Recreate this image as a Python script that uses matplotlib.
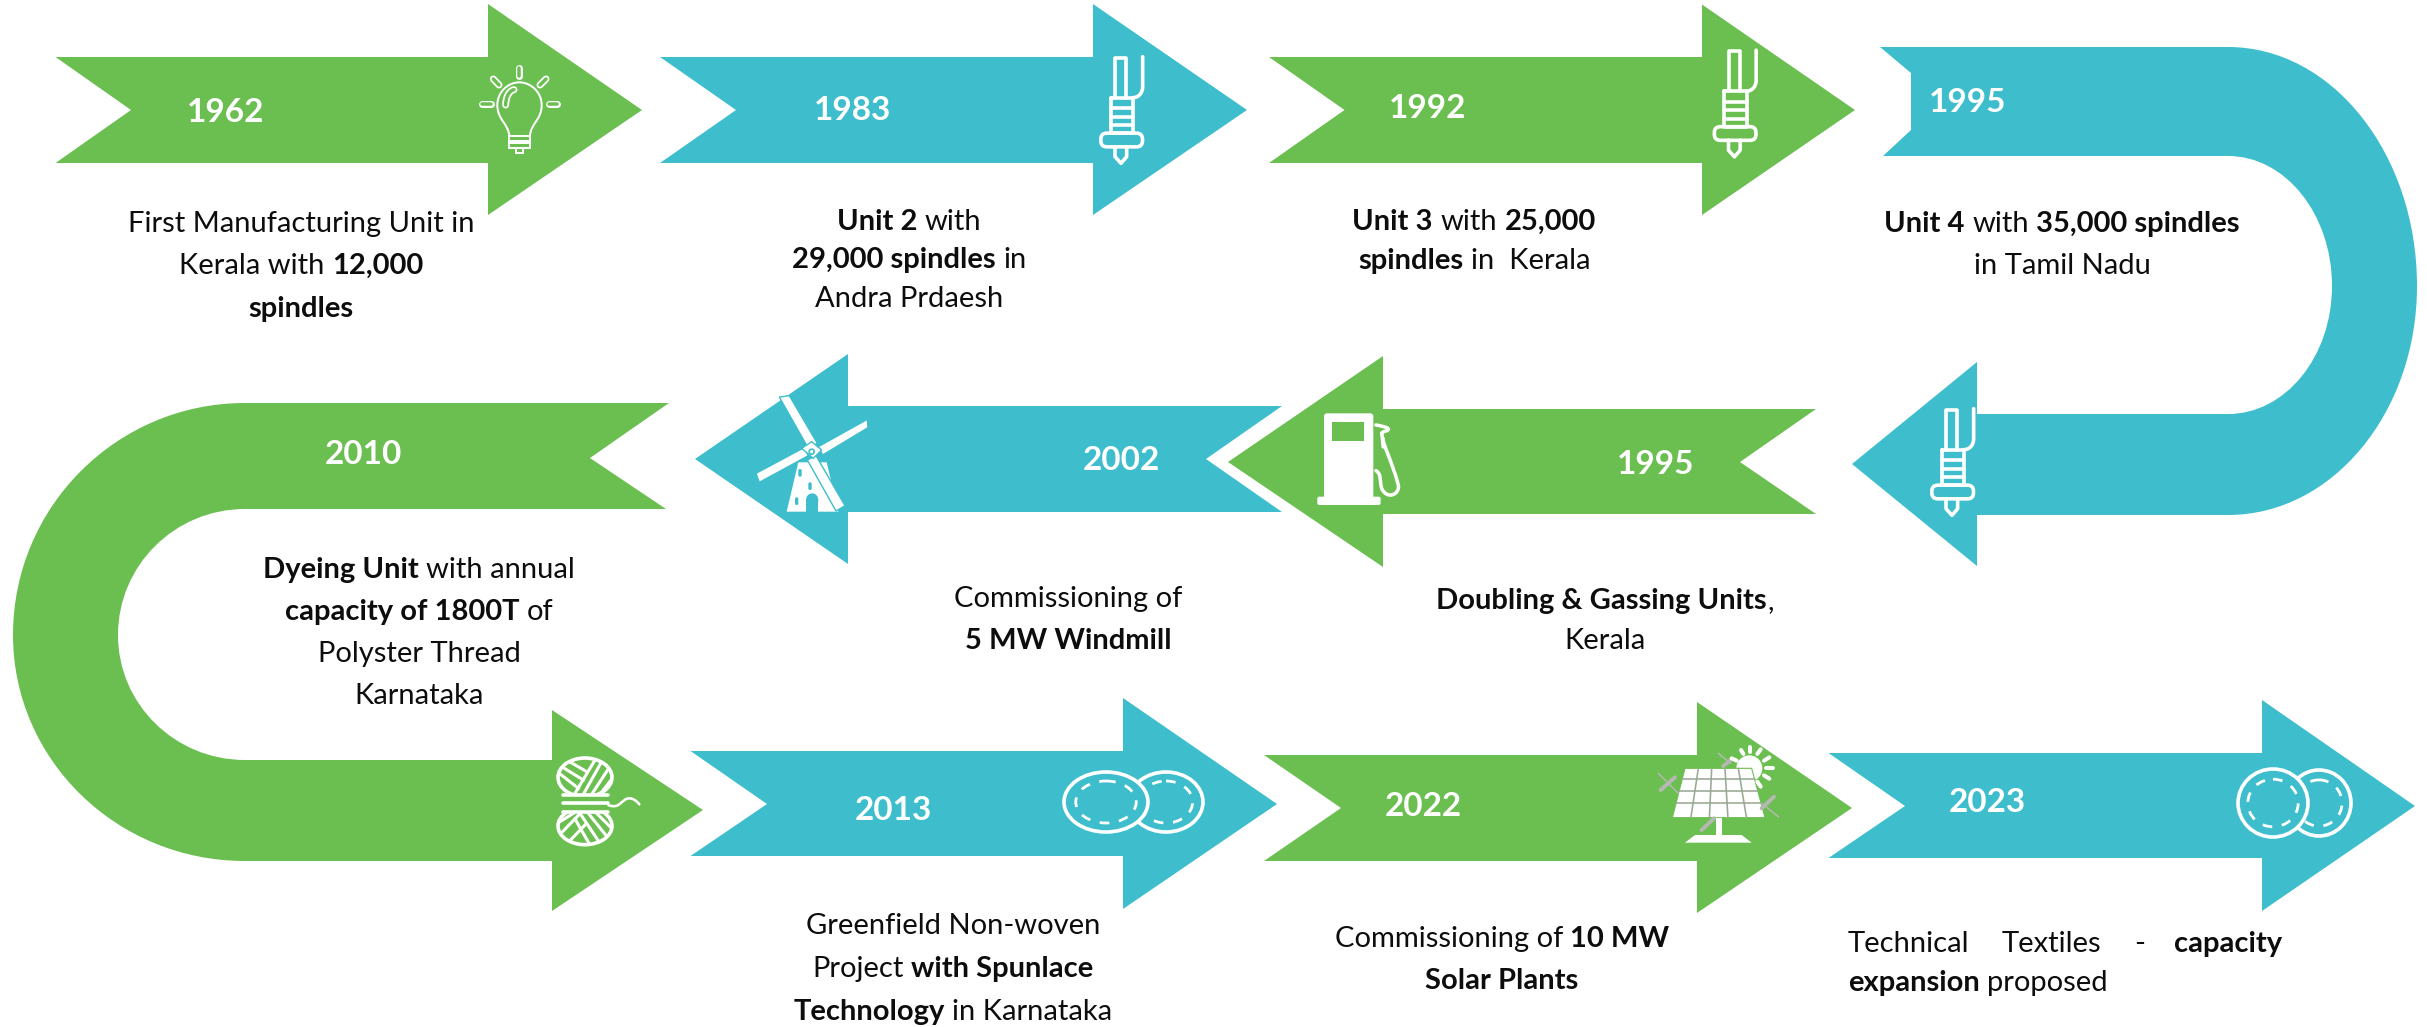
import numpy as np
import matplotlib
matplotlib.use("Agg")
import matplotlib.pyplot as plt
from matplotlib.path import Path
from matplotlib.patches import PathPatch, Polygon, Ellipse, FancyBboxPatch, Rectangle

GREEN = "#6bbf50"
BLUE = "#3ebecd"

# data
years = ["1962", "1983", "1992", "1995", "1995", "2002", "2010", "2013", "2022", "2023"]
desc_1962 = [[("First Manufacturing Unit in", 0)], [("Kerala with ", 0), ("12,000", 1)], [("spindles", 1)]]
desc_1983 = [[("Unit 2", 1), (" with", 0)], [("29,000 spindles", 1), (" in", 0)], [("Andra Prdaesh", 0)]]
desc_1992 = [[("Unit 3", 1), (" with ", 0), ("25,000", 1)], [("spindles", 1), (" in  Kerala", 0)]]
desc_1995a = [[("Unit 4", 1), (" with ", 0), ("35,000 spindles", 1)], [("in Tamil Nadu", 0)]]
desc_1995b = [[("Doubling & Gassing Units", 1), (",", 0)], [("Kerala", 0)]]
desc_2002 = [[("Commissioning of", 0)], [("5 MW Windmill", 1)]]
desc_2010 = [[("Dyeing Unit", 1), (" with annual", 0)], [("capacity of 1800T", 1), (" of", 0)],
             [("Polyster Thread", 0)], [("Karnataka", 0)]]
desc_2013 = [[("Greenfield Non-woven", 0)], [("Project ", 0), ("with Spunlace", 1)],
             [("Technology", 1), (" in Karnataka", 0)]]
desc_2022 = [[("Commissioning of ", 0), ("10 MW", 1)], [("Solar Plants", 1)]]
words_2023 = [("Technical", 0), ("Textiles", 0), ("-", 0), ("capacity", 1)]
line2_2023 = [("expansion", 1), (" proposed", 0)]

fig = plt.figure(figsize=(24.27, 10.27), dpi=100)
ax = fig.add_axes([0, 0, 1, 1])
ax.set_xlim(0, 2427)
ax.set_ylim(1027, 0)
ax.axis("off")
plt.rcParams["font.family"] = ["Lato", "DejaVu Sans"]
rend = fig.canvas.get_renderer()
BODY = 21
YEAR = 24


def arrow(tail, notch, base, tip, yc, top, bot, htop, hbot, col):
    pts = [(tail, top), (base, top), (base, htop), (tip, yc), (base, hbot), (base, bot), (tail, bot), (notch, yc)]
    ax.add_patch(Polygon(pts, closed=True, fc=col, ec="none"))


def curved(verts, col):
    # verts: list of (code letter, x, y)
    codes = {"M": Path.MOVETO, "L": Path.LINETO, "C": Path.CURVE4}
    p = Path([(v[1], v[2]) for v in verts], [codes[v[0]] for v in verts])
    ax.add_patch(PathPatch(p, fc=col, ec="none"))


def quarter(x0, y0, x1, y1, first_horizontal):
    k = 0.5523
    if first_horizontal:
        a = (x0 + k * (x1 - x0), y0)
        b = (x1, y1 - k * (y1 - y0))
    else:
        a = (x0, y0 + k * (y1 - y0))
        b = (x1 - k * (x1 - x0), y1)
    return [("C", *a), ("C", *b), ("C", x1, y1)]


def width(s, bold):
    t = ax.text(0, 0, "|" + s + "|", fontsize=BODY, fontweight="bold" if bold else "normal")
    w = t.get_window_extent(rend).width
    t.set_text("||")
    w -= t.get_window_extent(rend).width
    t.remove()
    return w


def put_run(x, y, s, bold):
    # leading blanks are dropped by the layout so shift past them
    n = len(s) - len(s.lstrip(" "))
    if n:
        x += width(" " * n, bold)
    ax.text(x, y, s.strip(" "), fontsize=BODY, fontweight="bold" if bold else "normal",
            color="#0d0d0d", va="baseline", ha="left")


def para(lines, xc, ys):
    for runs, y in zip(lines, ys):
        w = sum(width(r[0], r[1]) for r in runs)
        x = xc - w / 2
        for s, b in runs:
            put_run(x, y + 10, s, b)
            x += width(s, b)


def year(s, x, y):
    ax.text(x, y + 3, s, color="white", fontsize=YEAR, fontweight="bold", ha="center", va="center")


def ln(xs, ys, col="white", lw=3.0, **kw):
    ax.plot(xs, ys, color=col, lw=lw * 0.72, solid_capstyle="round", solid_joinstyle="round", **kw)


def smooth(pts, col="white", lw=3.0):
    # chain of cubic segments
    codes = [Path.MOVETO] + [Path.CURVE4] * (len(pts) - 1)
    ax.add_patch(PathPatch(Path(pts, codes), fc="none", ec=col, lw=lw * 0.72, capstyle="round"))


def needle(ox, oy, col):
    f = lambda xs, ys: ([ox + v / 3 for v in xs], [oy + v / 3 for v in ys])
    ln(*f([75, 75, 108, 108], [158, 38, 38, 158]), lw=3.6)
    smooth([(ox + 158 / 3, oy + 35 / 3), (ox + 158 / 3, oy + 70 / 3), (ox + 158 / 3, oy + 100 / 3), (ox + 158 / 3, oy + 125 / 3),
            (ox + 158 / 3, oy + 145 / 3), (ox + 145 / 3, oy + 158 / 3), (ox + 128 / 3, oy + 158 / 3)], lw=3.6)
    ln(*f([62, 130, 130, 62, 62], [158, 158, 265, 265, 158]), lw=3.6)
    for yy in [190, 215, 240]:
        ln(*f([62, 130], [yy, yy]), lw=3.6)
    ax.add_patch(FancyBboxPatch((ox + 40 / 3, oy + 272 / 3), 110 / 3, 26 / 3, boxstyle="round,pad=2.5,rounding_size=6",
                                fc=col, ec="white", lw=3.6 * 0.72))
    ln(*f([75, 75, 93, 110, 110], [305, 335, 355, 335, 305]), lw=3.6)


def capsule(x0, y0, x1, y1, col):
    ln([x0, x1], [y0, y1], lw=7)
    ln([x0, x1], [y0, y1], col=col, lw=3.5)


def bulb(ox, oy, col):
    P = lambda x, y: (ox + x / 3, oy + y / 3)
    smooth([P(118, 243), P(115, 205), P(82, 195), P(82, 150), P(82, 110), P(115, 82), P(148, 82),
            P(181, 82), P(215, 110), P(215, 150), P(215, 195), P(182, 205), P(180, 243)], lw=2)
    for p in [(118, 243, 62, 15), (118, 265, 62, 15)]:
        ax.add_patch(Rectangle(P(p[0], p[1]), p[2] / 3, p[3] / 3, fc="none", ec="white", lw=1.4))
    ax.add_patch(Rectangle(P(138, 280), 22 / 3, 14 / 3, fc="none", ec="white", lw=1.4))
    for a in [(148, 38, 148, 62), (70, 72, 87, 90), (228, 72, 210, 90), (36, 148, 62, 148), (236, 148, 262, 148)]:
        capsule(*P(a[0], a[1]), *P(a[2], a[3]), col)
    hl = [P(107, 150), P(107, 130), P(115, 108), P(132, 104)]
    smooth(hl, lw=7)
    smooth(hl, col=col, lw=3.5)


def pump(ox, oy, col):
    P = lambda x, y: (ox + x / 3, oy + y / 3)
    ax.add_patch(FancyBboxPatch(P(72, 40), 148 / 3, 260 / 3, boxstyle="round,pad=0,rounding_size=3", fc="white", ec="none"))
    ax.add_patch(FancyBboxPatch(P(52, 290), 190 / 3, 25 / 3, boxstyle="round,pad=0,rounding_size=2", fc="white", ec="none"))
    ax.add_patch(Rectangle(P(97, 67), 96 / 3, 55 / 3, fc=col, ec="none"))
    smooth([P(228, 75), P(245, 78), P(265, 82), P(265, 88), P(262, 95), P(250, 92), P(245, 100),
            P(250, 140), P(275, 180), P(295, 255), P(300, 285), P(260, 300), P(245, 265),
            P(238, 240), P(245, 222), P(228, 212)], lw=3.5)
    ln(*zip(P(248, 115), P(250, 140)), lw=4)


def windmill(ox, oy):
    P = lambda x, y: (ox + x / 3, oy + y / 3)
    ax.add_patch(Polygon([P(205, 232), P(290, 232), P(325, 380), P(170, 380)], fc="white", ec="none"))
    blades = [[P(148, 36), P(178, 32), P(262, 175), P(235, 190)],
              [P(265, 185), P(412, 103), P(414, 128), P(278, 210)],
              [P(78, 265), P(222, 188), P(235, 212), P(88, 292)],
              [P(232, 225), P(258, 212), P(345, 362), P(318, 378)]]
    for b in blades:
        ax.add_patch(Polygon(b, fc="white", ec=BLUE, lw=1.0))
    ax.add_patch(Polygon([P(215, 190), P(245, 170), P(275, 195), P(250, 220)], fc="white", ec=BLUE, lw=1.0))
    ax.add_patch(Ellipse(P(245, 200), 5, 5, fc="white", ec=BLUE, lw=1.2))
    for w in [(205, 252, 10, 23), (235, 292, 10, 23), (195, 337, 10, 23)]:
        ax.add_patch(FancyBboxPatch(P(w[0], w[1]), w[2] / 3, w[3] / 3, boxstyle="round,pad=0,rounding_size=1.5", fc=BLUE, ec="none"))
    ax.add_patch(Rectangle(P(228, 345), 37 / 3, 35 / 3, fc=BLUE, ec="none"))
    ax.add_patch(Ellipse(P(246.5, 345), 37 / 3, 40 / 3, fc=BLUE, ec="none"))


def yarn(ox, oy, col):
    P = lambda x, y: (ox + x / 3, oy + y / 3)
    top_strands = [(58, 85, 115, 130), (65, 65, 130, 105), (85, 48, 140, 80),
                   (105, 145, 165, 45), (130, 148, 185, 50), (155, 148, 203, 75), (180, 148, 213, 105)]
    low_strands = [(52, 235, 100, 205), (60, 268, 118, 208), (85, 292, 135, 240),
                   (120, 205, 180, 295), (145, 205, 205, 280), (170, 205, 215, 250), (105, 222, 150, 300)]
    for cy, ry, strands in [(97, 58, top_strands), (243, 56, low_strands)]:
        e = Ellipse(P(135, cy), 162 / 3, 2 * ry / 3, fc=col, ec="white", lw=2.6)
        ax.add_patch(e)
        for a in strands:
            l, = ax.plot(*zip(P(a[0], a[1]), P(a[2], a[3])), color="white", lw=2.2)
            l.set_clip_path(e)
    ax.add_patch(Rectangle(P(68, 148), 140 / 3, 56 / 3, fc=col, ec="none"))
    for yy in [150, 175, 200]:
        ln(*zip(P(68, yy), P(205, yy)), lw=3.6)
    smooth([P(205, 180), P(240, 195), P(245, 160), P(268, 160), P(280, 160), P(290, 168), P(298, 178)], lw=2.6)


def rings(cx1, rx1, ry1, cx2, rx2, ry2, cy, col):
    ax.add_patch(Ellipse((cx2, cy), 2 * rx2, 2 * ry2, fc=col, ec="white", lw=2.6))
    ax.add_patch(Ellipse((cx2, cy), 2 * rx2 * 0.72, 2 * ry2 * 0.7, fc="none", ec="white", lw=2.0, ls=(0, (3.5, 3.5))))
    ax.add_patch(Ellipse((cx1, cy), 2 * rx1, 2 * ry1, fc=col, ec="white", lw=2.6))
    ax.add_patch(Ellipse((cx1, cy), 2 * rx1 * 0.72, 2 * ry1 * 0.7, fc="none", ec="white", lw=2.0, ls=(0, (3.5, 3.5))))


def solar(ox, oy, col):
    P = lambda x, y: (ox + x / 3, oy + y / 3)
    gray = "#b4b8b0"
    for a in [(235, 70, 272, 100), (55, 130, 115, 190), (365, 220, 415, 260), (185, 300, 225, 265)]:
        ln(*zip(P(a[0], a[1]), P(a[2], a[3])), col=gray, lw=1.6)
    for a in [(250, 108, 272, 90), (62, 180, 105, 142), (365, 235, 402, 200), (185, 300, 222, 265)]:
        ln(*zip(P(a[0], a[1]), P(a[2], a[3])), col=gray, lw=4)
    ax.add_patch(Ellipse(P(328, 115), 78 / 3, 78 / 3, fc="white", ec="none"))
    for a in [(275, 85, 290, 92), (303, 60, 310, 72), (330, 50, 330, 66), (362, 58, 352, 72),
              (388, 82, 372, 92), (398, 113, 378, 113), (388, 146, 372, 136), (362, 170, 352, 155)]:
        ln(*zip(P(a[0], a[1]), P(a[2], a[3])), lw=4)
    tl, tr, br, bl = (135, 115), (335, 115), (375, 263), (97, 263)
    ax.add_patch(Polygon([P(*tl), P(*tr), P(*br), P(*bl)], fc="white", ec=col, lw=0.8))
    for i in range(1, 5):
        f = i / 5
        ln(*zip(P(tl[0] + f * (tr[0] - tl[0]), 115), P(bl[0] + f * (br[0] - bl[0]), 263)), col="#9aa896", lw=1.6)
    for yy in [148, 183, 220]:
        g = (yy - 115) / 148
        ln(*zip(P(135 - 38 * g, yy), P(335 + 40 * g, yy)), col="#9aa896", lw=1.6)
    ax.add_patch(Rectangle(P(228, 265), 17 / 3, 50 / 3, fc="white", ec="none"))
    ax.add_patch(Polygon([P(165, 315), P(305, 315), P(335, 338), P(135, 338)], fc="white", ec="none"))


# first row
arrow(55.5, 131, 488, 642, 110, 57, 163, 4, 215, GREEN)
arrow(660, 736, 1093, 1247, 110, 57, 163, 4, 215, BLUE)
arrow(1269, 1344.5, 1702, 1855, 110, 57, 163, 4.5, 215, GREEN)

# right hand U turn
v = [("M", 1880, 47), ("L", 2228, 47)]
v += quarter(2228, 47, 2417, 286, True) + quarter(2417, 286, 2228, 515, False)
v += [("L", 1977, 515), ("L", 1977, 566), ("L", 1852, 464), ("L", 1977, 362), ("L", 1977, 414), ("L", 2228, 414)]
v += quarter(2228, 414, 2332, 286, True) + quarter(2332, 286, 2228, 156, False)
v += [("L", 1883, 156), ("L", 1911, 130), ("L", 1911, 73), ("L", 1880, 47)]
curved(v, BLUE)

# second row
arrow(1816, 1740, 1383, 1228, 462, 409, 514, 356, 567, GREEN)
arrow(1282, 1206, 848, 695, 459, 406, 512, 354, 564, BLUE)

# left hand U turn
v = [("M", 669, 403), ("L", 245, 403)]
v += quarter(245, 403, 13, 635, True) + quarter(13, 635, 245, 861, False)
v += [("L", 552, 861), ("L", 552, 911), ("L", 703, 810), ("L", 552, 710), ("L", 552, 760), ("L", 245, 760)]
v += quarter(245, 760, 118, 635, True) + quarter(118, 635, 245, 509, False)
v += [("L", 666, 509), ("L", 590, 458), ("L", 669, 403)]
curved(v, GREEN)

# third row
arrow(690.5, 767, 1123, 1277, 804, 751, 856, 698, 909, BLUE)
arrow(1264, 1341, 1697, 1852, 808, 755, 861, 702, 913, GREEN)
arrow(1828.5, 1905, 2262, 2415, 806, 753, 858, 700, 911, BLUE)

# icons
bulb(470, 55, GREEN)
needle(1090, 45, BLUE)
needle(1703.5, 38.5, GREEN)
needle(1921, 397, BLUE)
pump(1300, 400, GREEN)
windmill(730, 385)
yarn(540, 745, GREEN)
rings(1106, 42, 30, 1166, 37, 30, 802, BLUE)
solar(1640, 730, GREEN)
rings(2273, 35, 34, 2319, 32, 33, 803, BLUE)

# years
year_pos = [(226, 110), (853, 107), (1428, 105), (1968, 99), (1656, 461), (1121, 458), (363, 451), (893, 808), (1423, 803), (1987, 800)]
for s, p in zip(years, year_pos):
    year(s, p[0], p[1])

# descriptions
para(desc_1962, 301, [222, 264, 307])
para(desc_1983, 909, [220, 258, 297])
para(desc_1992, 1474, [220, 259])
para(desc_1995a, 2062, [222, 264])
para(desc_1995b, 1605, [599, 639])
para(desc_2002, 1068, [597, 639])
para(desc_2010, 419, [568, 610, 652, 694])
para(desc_2013, 953, [924, 967, 1010])
para(desc_2022, 1502, [937, 979])
for (s, b), x in zip(words_2023, [1848, 2002, 2134, 2174]):
    put_run(x, 952, s, b)
x = 1848
for s, b in line2_2023:
    put_run(x, 991, s, b)
    x += width(s, b)

plt.savefig("out.png", dpi=100)
